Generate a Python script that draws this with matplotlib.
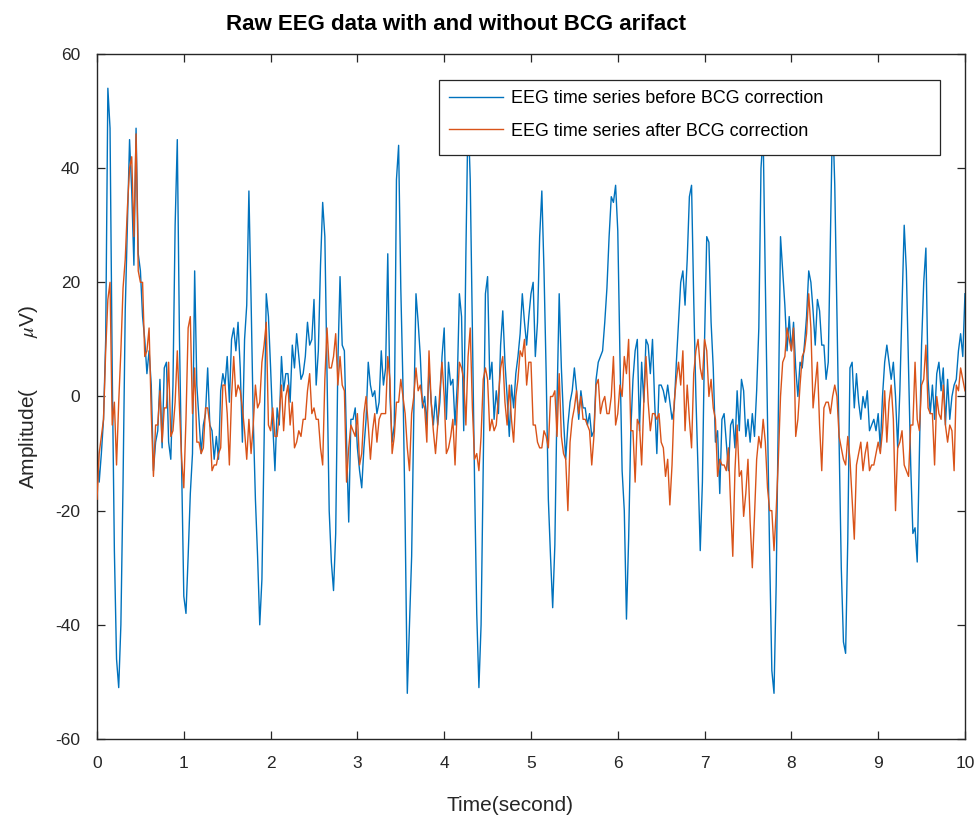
import matplotlib
matplotlib.use('Agg')

import numpy as np
import matplotlib.pyplot as plt
import matplotlib.patches as patches

plt.rcParams['font.family'] = ['Liberation Sans', 'DejaVu Sans']
plt.rcParams['mathtext.fontset'] = 'stix'
plt.rcParams['axes.unicode_minus'] = False

# sampling rate of the values (samples per second)
fs = 40

# EEG before BCG correction (uV), one line per second
eeg_before = [
    -8, -15, -10, -4, 10, 54, 47, 5, -27, -46, -51, -40, -15, 15, 30, 45, 36, 23, 47, 25, 22, 14, 10, 4, 8, 2, -13, -8, -6, 3, -9, 5, 6, -8, -11, 2, 30, 45, 10, -12,
    -35, -38, -28, -17, -10, 22, 2, -4, -10, -5, -3, 5, -5, -6, -11, -7, -11, 1, 4, 2, 7, -1, 10, 12, 8, 13, 5, -8, 10, 16, 36, 17, -4, -18, -28, -40, -32, -8, 18, 14,
    5, -5, -13, -2, -5, 7, 1, 4, 4, -1, 9, 5, 11, 7, 3, 4, 7, 13, 9, 10, 17, 2, 8, 23, 34, 28, 4, -20, -29, -34, -24, 6, 21, 9, 8, -8, -22, -4, -4, -2,
    -9, -13, -16, -9, -4, 6, 2, 0, 1, -3, -1, 8, 2, 5, 25, 0, -8, -5, 38, 44, 19, 2, -22, -52, -40, -28, -3, 18, 13, 7, -2, 0, -5, 5, -1, -5, 0, -5, -1, 7,
    12, -4, 6, 2, 3, -5, 2, 18, 14, -6, 25, 50, 38, 12, -15, -38, -51, -40, -12, 18, 21, 3, 6, -4, 1, -3, 9, 15, 6, 0, -7, 2, -2, 4, 7, 11, 18, 13, 9, 14,
    18, 20, 7, 13, 28, 36, 22, 4, -18, -28, -37, -26, -1, 18, 5, -4, -11, -5, -1, 1, 5, 1, -4, 1, -2, -2, -5, -3, -7, -6, 3, 6, 7, 8, 13, 19, 28, 35, 34, 37,
    29, 7, -13, -20, -39, -25, -6, 3, 8, 10, -6, 6, -1, 10, 9, 4, 10, -1, -10, 2, 2, 1, -1, 2, -1, -4, -2, 6, 13, 20, 22, 16, 24, 35, 37, 17, 0, -13, -27, -15,
    10, 28, 27, 13, 5, -8, -6, -17, -4, -3, -8, -13, -5, -4, -9, 1, -6, 3, 1, -7, -4, -8, -3, -7, 1, 12, 40, 46, 20, -4, -28, -48, -52, -33, -2, 28, 22, 16, 8, 14,
    8, 13, 5, 0, 6, 5, 9, 14, 22, 20, 15, 9, 17, 15, 9, 9, 3, 6, 28, 50, 37, 14, -8, -30, -43, -45, -25, 5, 6, -2, 4, -1, -4, 0, -2, 1, -6, -5, -4, -6,
    -3, -9, 0, 6, 9, 6, 3, 6, 0, -9, 1, 16, 30, 22, 5, -12, -24, -23, -29, -10, 9, 20, 26, 3, -3, 2, -4, 4, 6, 1, 5, -5, 3, -4, 0, 2, 3, 8, 11, 7, 18,
]

# EEG after BCG correction (uV), one line per second
eeg_after = [
    -18, -10, -7, -4, 8, 17, 20, -5, -1, -12, -1, 8, 19, 24, 33, 40, 42, 28, 46, 22, 20, 20, 7, 8, 12, -3, -14, -5, -5, 1, -8, -2, -2, 6, -7, -6, -1, 8, -2, -11,
    -16, -4, 12, 14, -3, 5, -8, -8, -10, -9, -2, -2, -5, -13, -12, -12, -10, -9, 2, 2, -3, -12, 0, 7, 0, 2, 1, -2, -6, -11, -4, -10, -5, 2, -2, -1, 6, 9, 13, -5,
    -6, -2, -7, -7, -3, 2, -6, 0, 2, -5, -1, -9, -8, -6, -7, -4, -4, 1, 4, -3, -2, -4, -4, -9, -12, 3, 12, 5, 5, 7, 11, 2, 7, 2, 1, -15, -9, -5, -6, -7,
    -3, -12, -10, -3, 0, -5, -11, -6, -3, -8, -4, -3, -3, -3, 7, 3, -10, -7, -1, -1, 3, 0, -3, -9, -13, -3, 0, 5, 1, 2, -1, -2, -8, 8, -1, -6, -10, -5, 1, 6,
    0, -10, -9, -7, -4, -12, -2, 6, 5, 3, -5, 7, 12, -2, -11, -10, -13, -7, 3, 5, 3, -6, -4, -6, -5, 0, 5, 7, -1, -5, 2, -4, -8, 0, 3, 8, 7, 10, 2, 6,
    6, -5, -5, -8, -9, -9, -6, -7, -9, 0, 0, 1, -7, 4, -7, -10, -11, -20, -8, -4, -2, 1, -3, 0, -4, -4, -5, -6, -12, -7, 2, 3, -3, -1, 0, -3, -3, 0, 7, -5,
    -3, 2, 0, 7, 4, 10, -6, -6, -15, -4, -5, -12, -1, 7, -1, -6, -3, -3, -4, -3, -8, -9, -14, -11, -19, -12, -1, 3, 6, 2, 8, -6, 2, -4, -9, 4, 8, 10, 5, 3,
    10, 8, 0, 3, -2, -4, -14, -11, -12, -12, -13, -9, -19, -28, -13, -5, -14, -13, -21, -17, -11, -22, -30, -21, -11, -7, -9, -4, -8, -16, -20, -20, -27, -20, -11, 0, 6, 7, 12, 10,
    8, 12, -7, -4, 2, 7, 8, 11, 18, 12, -2, 2, 6, -5, -13, -2, -1, -1, -3, 0, 2, 0, -7, -9, -11, -12, -7, -11, -18, -25, -12, -10, -8, -13, -10, -8, -13, -12, -12, -10,
    -8, -10, -6, 1, -8, -1, 2, -4, -20, -9, -8, -6, -12, -13, -14, -5, -5, 6, -4, -6, 2, 3, 9, -2, -3, -3, -12, 0, -3, -4, 2, -5, -8, -5, -6, -13, 2, 1, 5, 3, 1,
]

labels = ['EEG time series before BCG correction', 'EEG time series after BCG correction']
x_ticks = list(range(0, 11))
y_ticks = [-60, -40, -20, 0, 20, 40, 60]

t_before = np.arange(len(eeg_before)) / fs
t_after = np.arange(len(eeg_after)) / fs

blue = '#0072BD'
orange = '#D95319'
axis_col = '#262626'

fig = plt.figure(figsize=(9.75, 8.18), dpi=100)
ax = fig.add_axes([0.0995, 0.0966, 0.8902, 0.8374])

ax.plot(t_before, eeg_before, color=blue, linewidth=1.0, label=labels[0], zorder=2)
ax.plot(t_after, eeg_after, color=orange, linewidth=1.0, label=labels[1], zorder=3)

ax.set_xlim(0, 10)
ax.set_ylim(-60, 60)
ax.set_xticks(x_ticks)
ax.set_yticks(y_ticks)
ax.tick_params(direction='in', top=True, right=True, length=6, width=0.9,
               colors=axis_col, labelsize=12.5)
ax.tick_params(axis='x', pad=12)
ax.tick_params(axis='y', pad=12)
for s in ax.spines.values():
    s.set_color(axis_col)
    s.set_linewidth(1.0)

ax.set_xlabel('Time(second)', fontsize=15, color=axis_col, labelpad=18, x=0.476)
ax.set_ylabel('Amplitude(         $\\mu$V)', fontsize=15, color=axis_col, labelpad=11)

fig.text(0.468, 0.97, 'Raw EEG data with and without BCG arifact',
         ha='center', va='center', fontsize=16, fontweight='bold', color='black')

# legend box (MATLAB style, opaque, wide)
box = patches.Rectangle((0.394, 0.8526), 0.5772, 0.1094, transform=ax.transAxes,
                        facecolor='white', edgecolor=axis_col, linewidth=0.9, zorder=4)
ax.add_patch(box)
ax.legend(loc='upper left', bbox_to_anchor=(0.4055, 0.947), frameon=False,
          fontsize=12.9, handlelength=3.0, handletextpad=0.45, labelspacing=0.85,
          borderpad=0, borderaxespad=0).set_zorder(5)

plt.savefig('out.png', dpi=100)
plt.close()
